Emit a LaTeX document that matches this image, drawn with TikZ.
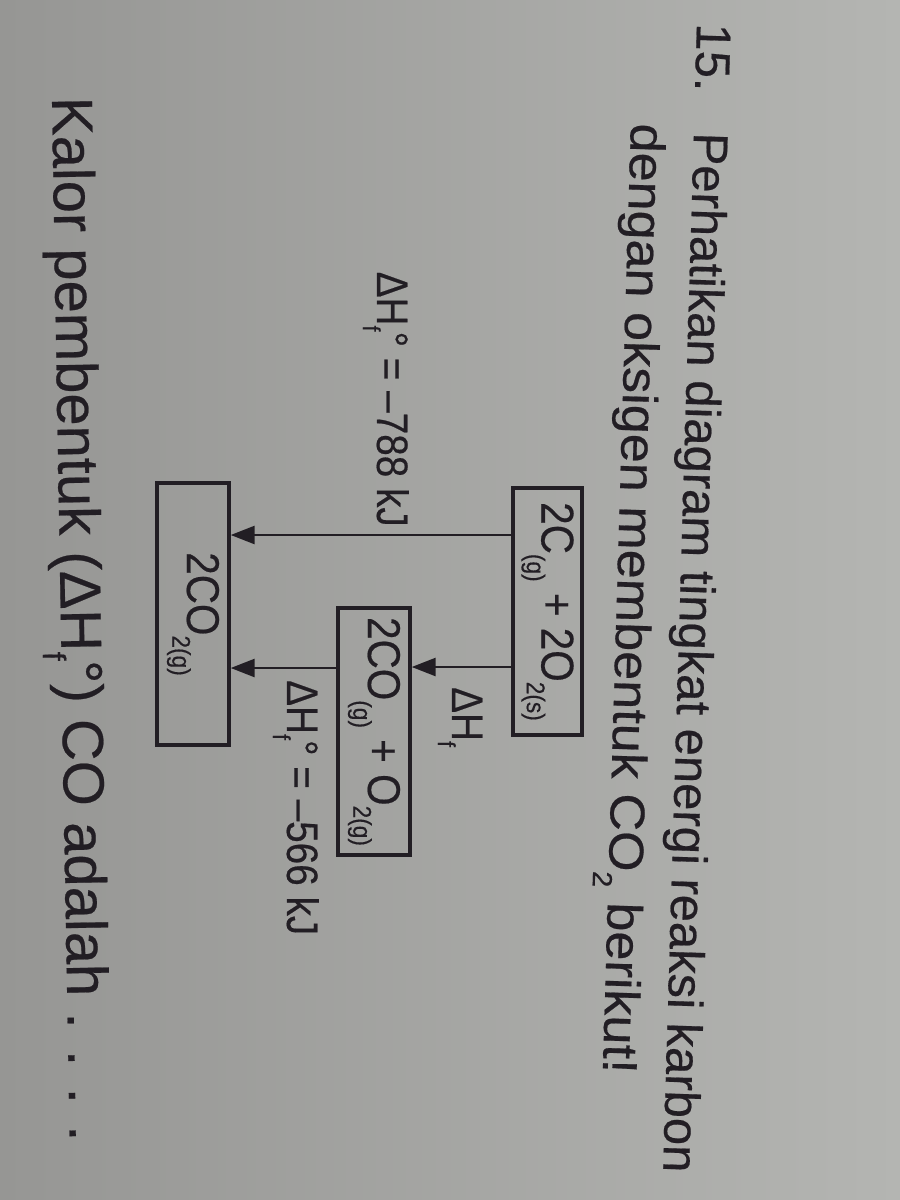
\documentclass[tikz,border=0pt]{standalone}
\usepackage{fontspec}
\setmainfont[FakeBold=0.4]{Liberation Sans}
\newfontfamily\cnd[FakeStretch=0.88,FakeBold=0.4]{Liberation Sans}
\usetikzlibrary{arrows.meta}
\definecolor{ink}{RGB}{34,30,36}
\definecolor{paperA}{RGB}{150,150,148}
\definecolor{paperB}{RGB}{188,188,185}
\definecolor{paperC}{RGB}{180,181,178}
\newcommand{\lo}[1]{\raisebox{-0.32em}{\scalebox{0.56}{#1}}}
\newcommand{\dHf}{ΔH\lo{f}°}

\begin{document}
\begin{tikzpicture}[x=1pt,y=-1pt,
  txt/.style={text=ink,inner sep=0pt},
  soal/.style={txt,anchor=base west,rotate=-91.7,font=\fontsize{49}{58}\selectfont},
  kotak/.style={draw=ink,line width=3.4pt,rotate=-90,inner sep=0pt,text=ink,font=\cnd\fontsize{46}{50}\selectfont},
  dhtext/.style={txt,rotate=-90,font=\cnd\fontsize{44}{50}\selectfont},
  link/.style={draw=ink,line width=2.6pt,-{Triangle[length=24pt,width=18pt]}}]
\shade[left color=paperA,middle color=paperB,right color=paperC] (0,0) rectangle (900,1200);
\useasboundingbox (0,0) rectangle (900,1200);

% soal
\node[soal] (num) at (697,23) {15.};
\node[soal] (ask1) at (694,132) {Perhatikan diagram tingkat energi reaksi karbon};
\node[soal,xscale=1.065] (ask2) at (631,123) {dengan oksigen membentuk CO\lo{2} berikut!};

% diagram tingkat energi
\node[kotak,minimum width=247pt,minimum height=69pt] (react) at (547.5,611.5) {2C\lo{(g)} + 2O\lo{2(s)}};
\node[kotak,minimum width=247pt,minimum height=72pt] (mid) at (374,731.5) {2CO\lo{(g)} + O\lo{2(g)}};
\node[kotak,minimum width=262pt,minimum height=72pt] (prod) at (193,614) {2CO\lo{2(g)}};

\draw[link] (react.south |- 0,535) -- (prod.north |- 0,535);
\draw[link] (react.south |- 0,667) -- (mid.north |- 0,667);
\draw[link] (mid.south |- 0,668) -- (prod.north |- 0,668);

\node[dhtext,anchor=base east] (dh1) at (377,527) {\dHf{} = –788 kJ};
\node[dhtext,anchor=base west] (dh2) at (452,687) {ΔH\lo{f}};
\node[dhtext,anchor=base west] (dh3) at (287,680) {\dHf{} = –566 kJ};

% pertanyaan
\node[txt,anchor=base west,rotate=-89.03,font=\fontsize{58}{66}\selectfont] (ask3) at (52,97) {Kalor pembentuk (\dHf) CO adalah . . . .};
\end{tikzpicture}
\end{document}
